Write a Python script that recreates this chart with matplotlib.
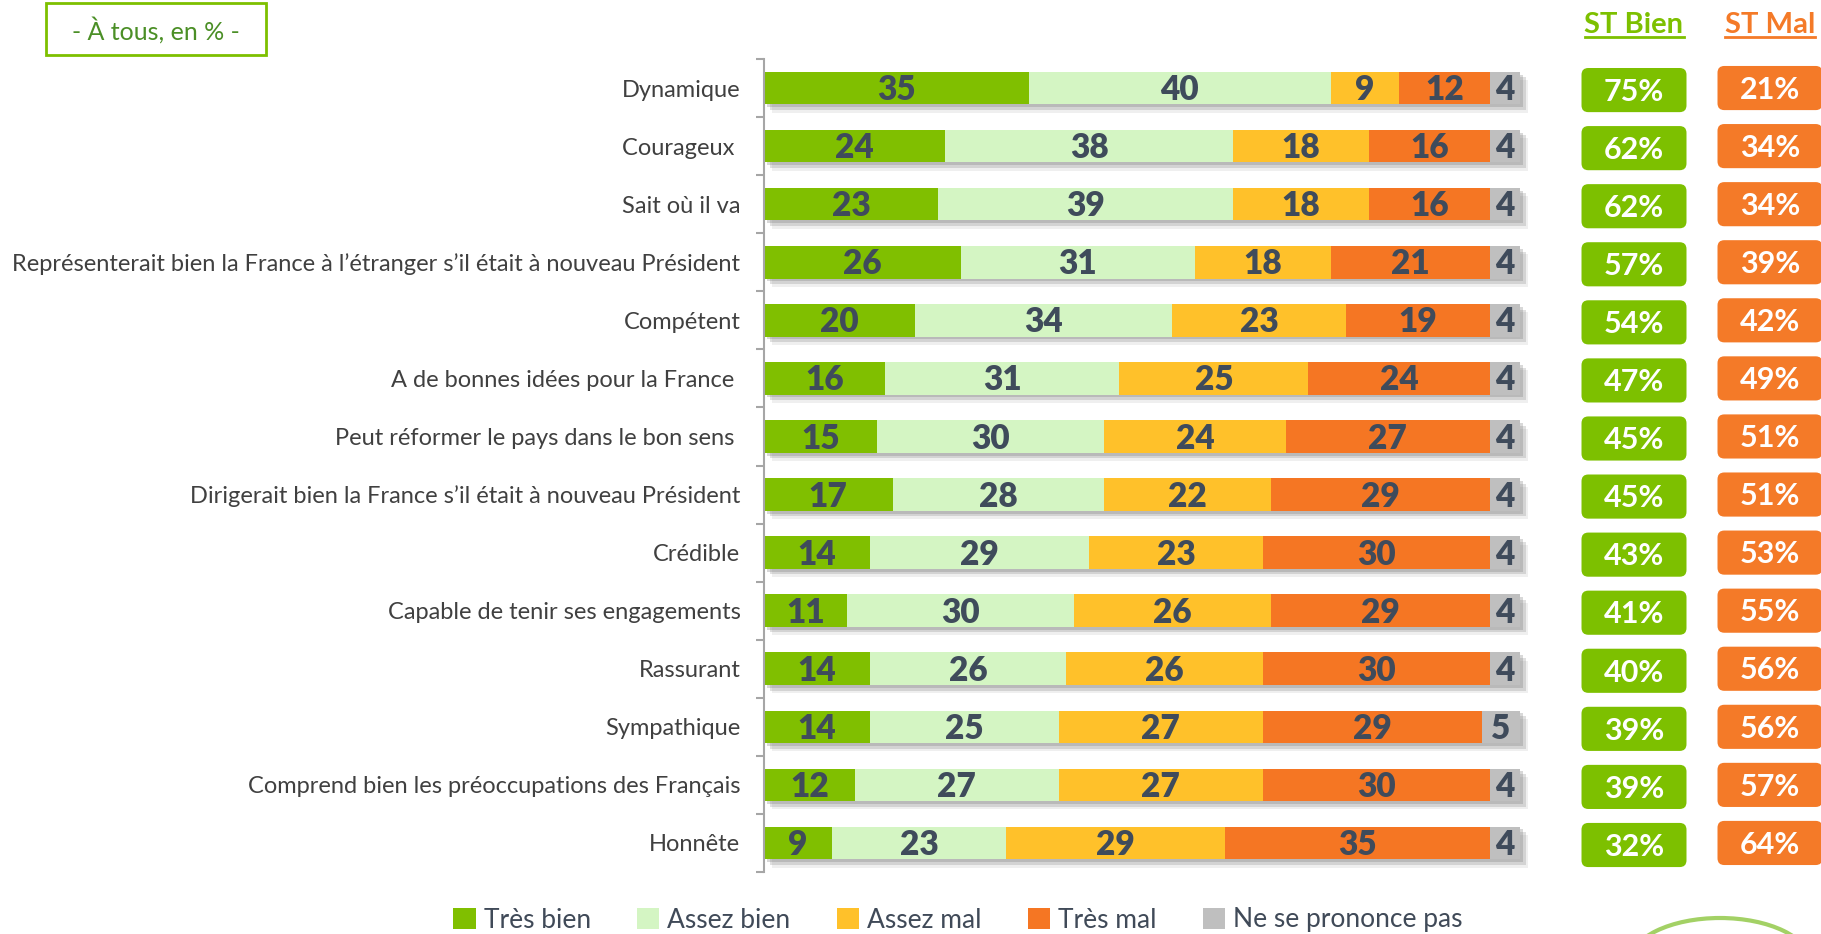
import numpy as np
import matplotlib.pyplot as plt
import matplotlib.patheffects as pe
from matplotlib.patches import FancyBboxPatch, Rectangle, Arc

plt.rcParams['font.family'] = ['Lato', 'DejaVu Sans']

# données
items = ['Dynamique', 'Courageux ', 'Sait où il va',
         'Représenterait bien la France à l\u2019étranger s\u2019il était à nouveau Président',
         'Compétent', 'A de bonnes idées pour la France ',
         'Peut réformer le pays dans le bon sens ',
         'Dirigerait bien la France s\u2019il était à nouveau Président',
         'Crédible', 'Capable de tenir ses engagements', 'Rassurant', 'Sympathique',
         'Comprend bien les préoccupations des Français', 'Honnête']
tres_bien = [35, 24, 23, 26, 20, 16, 15, 17, 14, 11, 14, 14, 12, 9]
assez_bien = [40, 38, 39, 31, 34, 31, 30, 28, 29, 30, 26, 25, 27, 23]
assez_mal = [9, 18, 18, 18, 23, 25, 24, 22, 23, 26, 26, 27, 27, 29]
tres_mal = [12, 16, 16, 21, 19, 24, 27, 29, 30, 29, 30, 29, 30, 35]
nsp = [4, 4, 4, 4, 4, 4, 4, 4, 4, 4, 4, 5, 4, 4]
st_bien = [75, 62, 62, 57, 54, 47, 45, 45, 43, 41, 40, 39, 39, 32]
st_mal = [21, 34, 34, 39, 42, 49, 51, 51, 53, 55, 56, 56, 57, 64]
series_names = ['Très bien', 'Assez bien', 'Assez mal', 'Très mal', 'Ne se prononce pas']
colors = ['#80BF00', '#D4F5C3', '#FFC12A', '#F57623', '#BFBFBF']

W, H = 1821, 934
GREEN = '#7DC000'
ORANGE = '#F47A28'
TXT = '#3F4B5B'


def px_box(x0, y0, x1, y1):
    # rectangle en pixels (origine en haut à gauche) -> coordonnées figure
    return [x0 / W, 1 - y1 / H, (x1 - x0) / W, (y1 - y0) / H]


fig = plt.figure(figsize=(W / 100, H / 100), dpi=100)

# barres empilées
ax = fig.add_axes(px_box(764, 59, 1520, 872))
y = np.arange(len(items))
series = [tres_bien, assez_bien, assez_mal, tres_mal, nsp]
totals = np.sum(series, axis=0)
h = 0.56

back = ax.barh(y, totals, height=h, color='white', zorder=1)
for b in back:
    b.set_clip_on(False)
    b.set_path_effects([
        pe.SimplePatchShadow(offset=(6, -6), shadow_rgbFace='#808080', alpha=0.12),
        pe.SimplePatchShadow(offset=(4, -4), shadow_rgbFace='#808080', alpha=0.25),
        pe.SimplePatchShadow(offset=(2, -2), shadow_rgbFace='#808080', alpha=0.3),
        pe.Normal()])

left = np.zeros(len(items))
handles = []
for vals, name, c in zip(series, series_names, colors):
    bars = ax.barh(y, vals, left=left, height=h, color=c, label=name, zorder=2)
    anns = ax.bar_label(bars, labels=[str(v) for v in vals], label_type='center',
                        fontsize=24, fontweight='heavy', color=TXT)
    for a in anns:
        a.xyann = (0, -1.5)
    left += vals
    handles.append(bars)

ax.set_xlim(0, 100)
ax.set_ylim(len(items) - 0.5, -0.5)
ax.xaxis.set_visible(False)
for s in ['top', 'right', 'bottom']:
    ax.spines[s].set_visible(False)
ax.spines['left'].set_color('#A6A6A6')
ax.spines['left'].set_linewidth(1.5)
ax.set_yticks(y, labels=items)
ax.set_yticks(np.arange(-0.5, len(items)), minor=True)
ax.tick_params(axis='y', which='major', length=0, pad=17, labelsize=17, labelcolor='#404040')
ax.tick_params(axis='y', which='minor', length=6, width=1.5, color='#A6A6A6')

# colonnes ST Bien / ST Mal
ax2 = fig.add_axes(px_box(1566, 59, 1821, 872))
ax2.set_xlim(-0.5, 1.375)
ax2.set_ylim(len(items) - 0.5, -0.5)
ax2.axis('off')
asp = 136 / 58.07
for i in y:
    for xc, dy, val, c in [(0, 0.035, st_bien[i], GREEN), (1, 0, st_mal[i], ORANGE)]:
        ax2.add_patch(FancyBboxPatch((xc - 0.386, i + dy - 0.38), 0.772, 0.76,
                                     boxstyle='round,pad=0,rounding_size=0.05',
                                     mutation_aspect=asp, fc=c, ec='none'))
        ax2.text(xc, i + dy + 0.03, f'{val}%', ha='center', va='center', color='white',
                 fontsize=22, fontweight='bold')

# calque en pixels : cadre, en-têtes, logo
ov = fig.add_axes([0, 0, 1, 1], zorder=-1)
ov.set_xlim(0, W)
ov.set_ylim(H, 0)
ov.axis('off')
ov.add_patch(Rectangle((46, 3), 220, 52, fill=False, ec=GREEN, lw=2))
ov.text(156, 30, '- À tous, en % -', ha='center', va='center', fontsize=18, color='#4B8F26')
heads = [ov.text(1634, 33, 'ST Bien', ha='center', va='baseline', fontsize=21,
                 fontweight='bold', color=GREEN),
         ov.text(1770, 33, 'ST Mal', ha='center', va='baseline', fontsize=21,
                 fontweight='bold', color=ORANGE)]
ov.add_patch(Arc((1720, 962), 180, 88, theta1=180, theta2=360, color='#8CC63F', lw=3, alpha=0.8))

fig.legend(handles, series_names, loc='center', bbox_to_anchor=(958 / W, 1 - 920 / H),
           ncol=5, frameon=False, fontsize=19, handlelength=0.85, handleheight=0.85,
           handletextpad=0.3, columnspacing=1.75, labelcolor='#404A58')

# soulignement des en-têtes
fig.canvas.draw()
r = fig.canvas.get_renderer()
for t in heads:
    bb = t.get_window_extent(r)
    ov.plot([bb.x0, bb.x1], [37, 37], color=t.get_color(), lw=2)

fig.savefig('out.png', dpi=100)
